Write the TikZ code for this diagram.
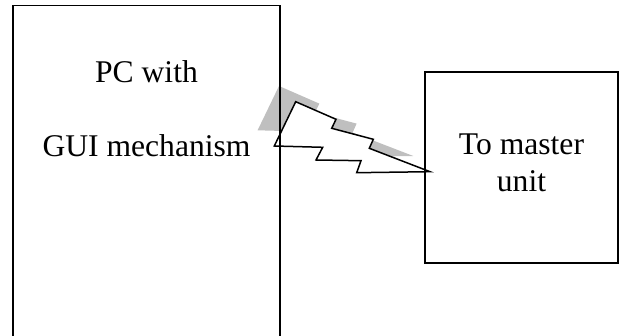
\documentclass[tikz,border=0pt]{standalone}
\usepackage{fontspec}
\setmainfont{Liberation Serif}
\begin{document}
\begin{tikzpicture}[x=1pt,y=-1pt,
  box/.style={draw=black,line width=1.5pt,rectangle,inner sep=0pt},
  label/.style={font=\fontsize{31.6}{37}\selectfont,inner sep=0pt,anchor=base},
  bolt/.style={draw=black,line width=1.5pt,fill=white,line join=miter},
  boltshadow/.style={fill=black!25,draw=none}]
\useasboundingbox (0,0) rectangle (621,336);
% wireless link: shadow first, then the white bolt
\begin{scope}[shift={(-16.7,-15.7)}]
  \fill[boltshadow] (295.7,101.7) -- (336,119.3) -- (331.7,128.3) -- (373.3,139.3)
    -- (369.3,148.3) -- (430,171.7) -- (356.7,172.7) -- (361,160.7) -- (316,160)
    -- (322.7,147.3) -- (274.3,146) -- cycle;
\end{scope}
\draw[bolt] (295.7,101.7) -- (336,119.3) -- (331.7,128.3) -- (373.3,139.3)
    -- (369.3,148.3) -- (430,171.7) -- (356.7,172.7) -- (361,160.7) -- (316,160)
    -- (322.7,147.3) -- (274.3,146) -- cycle;
% the two units
\node[box,minimum width=267pt,minimum height=345pt] (pc) at (146.5,178) {};
\node[box,minimum width=193pt,minimum height=191pt] (master) at (521.5,167.5) {};
% their texts
\node[label] (pc1) at (146.5,83) {PC with};
\node[label] (pc2) at (146.5,157) {GUI mechanism};
\node[label] (m1) at (521.5,155) {To master};
\node[label] (m2) at (521.5,192) {unit};
\end{tikzpicture}
\end{document}
